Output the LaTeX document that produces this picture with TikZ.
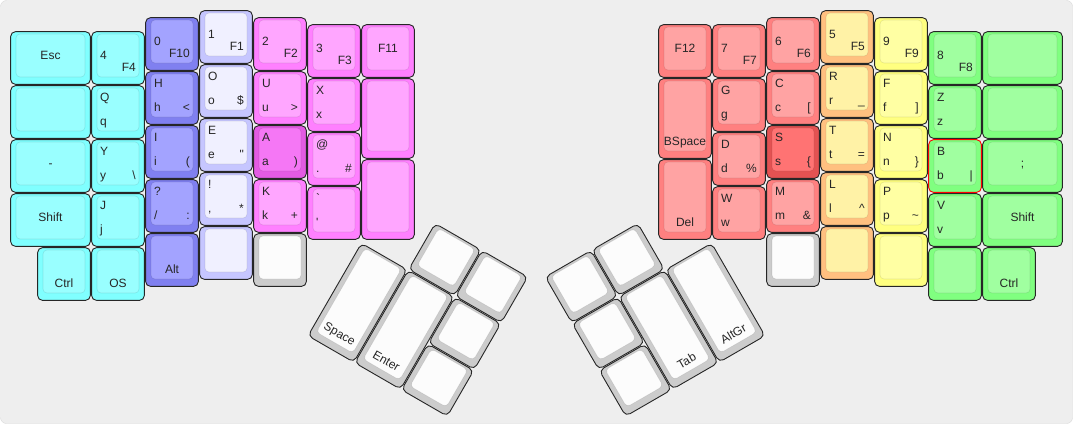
\documentclass[tikz,border=0pt]{standalone}
\usepackage{fontspec}
\setmainfont{Liberation Sans}[Ligatures=TeXOff]

\definecolor{board}{HTML}{EEEEEE}
\definecolor{cyanout}{HTML}{80FFFF}
\definecolor{cyanin}{HTML}{99FFFF}
\definecolor{blueout}{HTML}{8080F0}
\definecolor{bluein}{HTML}{A3A3FF}
\definecolor{lavout}{HTML}{C6C6FF}
\definecolor{lavin}{HTML}{F0F0FF}
\definecolor{magout}{HTML}{FF80FF}
\definecolor{magin}{HTML}{FFA6FF}
\definecolor{dmagout}{HTML}{E35BE3}
\definecolor{dmagin}{HTML}{F577F5}
\definecolor{grayout}{HTML}{CCCCCC}
\definecolor{grayin}{HTML}{FCFCFC}
\definecolor{redout}{HTML}{FF8080}
\definecolor{redin}{HTML}{FFA3A3}
\definecolor{dredout}{HTML}{E35252}
\definecolor{dredin}{HTML}{FF7373}
\definecolor{orgout}{HTML}{FFC080}
\definecolor{orgin}{HTML}{FFF2A6}
\definecolor{yelout}{HTML}{FFFF80}
\definecolor{yelin}{HTML}{FFFFA3}
\definecolor{grnout}{HTML}{80FF80}
\definecolor{grnin}{HTML}{A0FFA0}

\tikzset{
  keyborder/.style={draw=black!85, line width=0.9pt, rounded corners=5pt},
  keytop/.style={draw=black, draw opacity=0.1, line width=0.6pt, rounded corners=4pt},
  keycol/.style 2 args={keyborder/.append style={fill=#1}, keytop/.append style={fill=#2}},
  lbl/.style={inner sep=0pt, font=\fontsize{12}{14}\selectfont, text=black!85}
}

% one key: name, x, y, width, height (in px, y downwards)
\newcommand{\keycap}[5]{%
  \def\kn{#1}\def\kx{#2}\def\ky{#3}\def\kw{#4}\def\kh{#5}%
  \draw[keyborder] (#2+0.6,#3+0.6) rectangle (#2+#4-0.6,#3+#5-0.6);
  \draw[keytop] (#2+6,#3+3) rectangle (#2+#4-6,#3+#5-8);
  \coordinate (#1) at (#2+#4/2,#3+#5/2);}
\newcommand{\labTL}[1]{\node[lbl,anchor=base west] (\kn-tl) at (\kx+9,\ky+16) {#1};}
\newcommand{\labCL}[1]{\node[lbl,anchor=base west] (\kn-cl) at (\kx+9,\ky+28) {#1};}
\newcommand{\labBL}[1]{\node[lbl,anchor=base west] (\kn-bl) at (\kx+9,\ky+\kh-14) {#1};}
\newcommand{\labBR}[1]{\node[lbl,anchor=base east] (\kn-br) at (\kx+\kw-9,\ky+\kh-14) {#1};}
\newcommand{\labCC}[1]{\node[lbl,anchor=base] (\kn-cc) at (\kx+\kw/2,\ky+28) {#1};}
\newcommand{\labBC}[1]{\node[lbl,anchor=base] (\kn-bc) at (\kx+\kw/2,\ky+\kh-14) {#1};}

\begin{document}
\begin{tikzpicture}[x=1pt,y=-1pt]

  \useasboundingbox (0,0) rectangle (1073,424);
  \draw[fill=board, draw=black!15, rounded corners=6pt] (0.5,0.5) rectangle (1072.5,423.5);

  % left hand
  \begin{scope}[keycol={cyanout}{cyanin}]
    \keycap{esc}{10}{31}{81}{54} \labCC{Esc}
    \keycap{l0b}{10}{85}{81}{54}
    \keycap{dash}{10}{139}{81}{54} \labCC{-}
    \keycap{lshift}{10}{193}{81}{54} \labCC{Shift}
    \keycap{lctrl}{37}{247}{54}{54} \labBC{Ctrl}
    \keycap{k4}{91}{31}{54}{54} \labCL{4} \labBR{F4}
    \keycap{q}{91}{85}{54}{54} \labTL{Q} \labBL{q}
    \keycap{y}{91}{139}{54}{54} \labTL{Y} \labBL{y} \labBR{\textbackslash}
    \keycap{j}{91}{193}{54}{54} \labTL{J} \labBL{j}
    \keycap{os}{91}{247}{54}{54} \labBC{OS}
  \end{scope}

  \begin{scope}[keycol={blueout}{bluein}]
    \keycap{k0}{145}{17}{54}{54} \labCL{0} \labBR{F10}
    \keycap{h}{145}{71}{54}{54} \labTL{H} \labBL{h} \labBR{<}
    \keycap{i}{145}{125}{54}{54} \labTL{I} \labBL{i} \labBR{(}
    \keycap{quest}{145}{179}{54}{54} \labTL{?} \labBL{/} \labBR{:}
    \keycap{alt}{145}{233}{54}{54} \labBC{Alt}
  \end{scope}

  \begin{scope}[keycol={lavout}{lavin}]
    \keycap{k1}{199}{10}{54}{54} \labCL{1} \labBR{F1}
    \keycap{o}{199}{64}{54}{54} \labTL{O} \labBL{o} \labBR{\$}
    \keycap{e}{199}{118}{54}{54} \labTL{E} \labBL{e} \labBR{"}
    \keycap{excl}{199}{172}{54}{54} \labTL{!} \labBL{,} \labBR{*}
    \keycap{l3b}{199}{226}{54}{54}
  \end{scope}

  \begin{scope}[keycol={magout}{magin}]
    \keycap{k2}{253}{17}{54}{54} \labCL{2} \labBR{F2}
    \keycap{u}{253}{71}{54}{54} \labTL{U} \labBL{u} \labBR{>}
    \begin{scope}[keycol={dmagout}{dmagin}]
      \keycap{a}{253}{125}{54}{54} \labTL{A} \labBL{a} \labBR{)}
    \end{scope}
    \keycap{k}{253}{179}{54}{54} \labTL{K} \labBL{k} \labBR{+}
    \keycap{k3}{307}{24}{54}{54} \labCL{3} \labBR{F3}
    \keycap{x}{307}{78}{54}{54} \labTL{X} \labBL{x}
    \keycap{at}{307}{132}{54}{54} \labTL{@} \labBL{.} \labBR{\#}
    \keycap{grave}{307}{186}{54}{54} \labTL{`} \labBL{'}
    \keycap{f11}{361}{24}{54}{54} \labCC{F11}
    \keycap{l6a}{361}{78}{54}{81}
    \keycap{l6b}{361}{159}{54}{81}
  \end{scope}

  \begin{scope}[keycol={grayout}{grayin}]
    \keycap{l4b}{253}{233}{54}{54}
  \end{scope}

  % left thumb
  \begin{scope}[shift={(388.2,195.7)}, rotate=-30, transform shape, keycol={grayout}{grayin}]
    \keycap{lt1}{54}{0}{54}{54}
    \keycap{lt2}{108}{0}{54}{54}
    \keycap{space}{0}{54}{54}{108} \labBC{Space}
    \keycap{enter}{54}{54}{54}{108} \labBC{Enter}
    \keycap{lt3}{108}{54}{54}{54}
    \keycap{lt4}{108}{108}{54}{54}
  \end{scope}

  % right hand
  \begin{scope}[keycol={redout}{redin}]
    \keycap{f12}{658}{24}{54}{54} \labCC{F12}
    \keycap{bspace}{658}{78}{54}{81} \labBC{BSpace}
    \keycap{del}{658}{159}{54}{81} \labBC{Del}
    \keycap{k7}{712}{24}{54}{54} \labCL{7} \labBR{F7}
    \keycap{g}{712}{78}{54}{54} \labTL{G} \labBL{g}
    \keycap{d}{712}{132}{54}{54} \labTL{D} \labBL{d} \labBR{\%}
    \keycap{w}{712}{186}{54}{54} \labTL{W} \labBL{w}
    \keycap{k6}{766}{17}{54}{54} \labCL{6} \labBR{F6}
    \keycap{c}{766}{71}{54}{54} \labTL{C} \labBL{c} \labBR{[}
    \begin{scope}[keycol={dredout}{dredin}]
      \keycap{s}{766}{125}{54}{54} \labTL{S} \labBL{s} \labBR{\{}
    \end{scope}
    \keycap{m}{766}{179}{54}{54} \labTL{M} \labBL{m} \labBR{\&}
  \end{scope}

  \begin{scope}[keycol={grayout}{grayin}]
    \keycap{r2b}{766}{233}{54}{54}
  \end{scope}

  \begin{scope}[keycol={orgout}{orgin}]
    \keycap{k5}{820}{10}{54}{54} \labCL{5} \labBR{F5}
    \keycap{r}{820}{64}{54}{54} \labTL{R} \labBL{r} \labBR{\_}
    \keycap{t}{820}{118}{54}{54} \labTL{T} \labBL{t} \labBR{=}
    \keycap{l}{820}{172}{54}{54} \labTL{L} \labBL{l} \labBR{\textasciicircum}
    \keycap{r3b}{820}{226}{54}{54}
  \end{scope}

  \begin{scope}[keycol={yelout}{yelin}]
    \keycap{k9}{874}{17}{54}{54} \labCL{9} \labBR{F9}
    \keycap{f}{874}{71}{54}{54} \labTL{F} \labBL{f} \labBR{]}
    \keycap{n}{874}{125}{54}{54} \labTL{N} \labBL{n} \labBR{\}}
    \keycap{p}{874}{179}{54}{54} \labTL{P} \labBL{p} \labBR{\textasciitilde}
    \keycap{r4b}{874}{233}{54}{54}
  \end{scope}

  \begin{scope}[keycol={grnout}{grnin}]
    \keycap{k8}{928}{31}{54}{54} \labCL{8} \labBR{F8}
    \keycap{z}{928}{85}{54}{54} \labTL{Z} \labBL{z}
    \begin{scope}[keyborder/.append style={draw=red}]
      \keycap{b}{928}{139}{54}{54} \labTL{B} \labBL{b} \labBR{|}
    \end{scope}
    \keycap{v}{928}{193}{54}{54} \labTL{V} \labBL{v}
    \keycap{r5b}{928}{247}{54}{54}
    \keycap{r6a}{982}{31}{81}{54}
    \keycap{r6b}{982}{85}{81}{54}
    \keycap{semi}{982}{139}{81}{54} \labCC{;}
    \keycap{rshift}{982}{193}{81}{54} \labCC{Shift}
    \keycap{rctrl}{982}{247}{54}{54} \labBC{Ctrl}
  \end{scope}

  % right thumb
  \begin{scope}[shift={(544.5,276.7)}, rotate=30, transform shape, keycol={grayout}{grayin}]
    \keycap{rt1}{0}{0}{54}{54}
    \keycap{rt2}{54}{0}{54}{54}
    \keycap{rt3}{0}{54}{54}{54}
    \keycap{rt4}{0}{108}{54}{54}
    \keycap{tab}{54}{54}{54}{108} \labBC{Tab}
    \keycap{altgr}{108}{54}{54}{108} \labBC{AltGr}
  \end{scope}

\end{tikzpicture}
\end{document}
